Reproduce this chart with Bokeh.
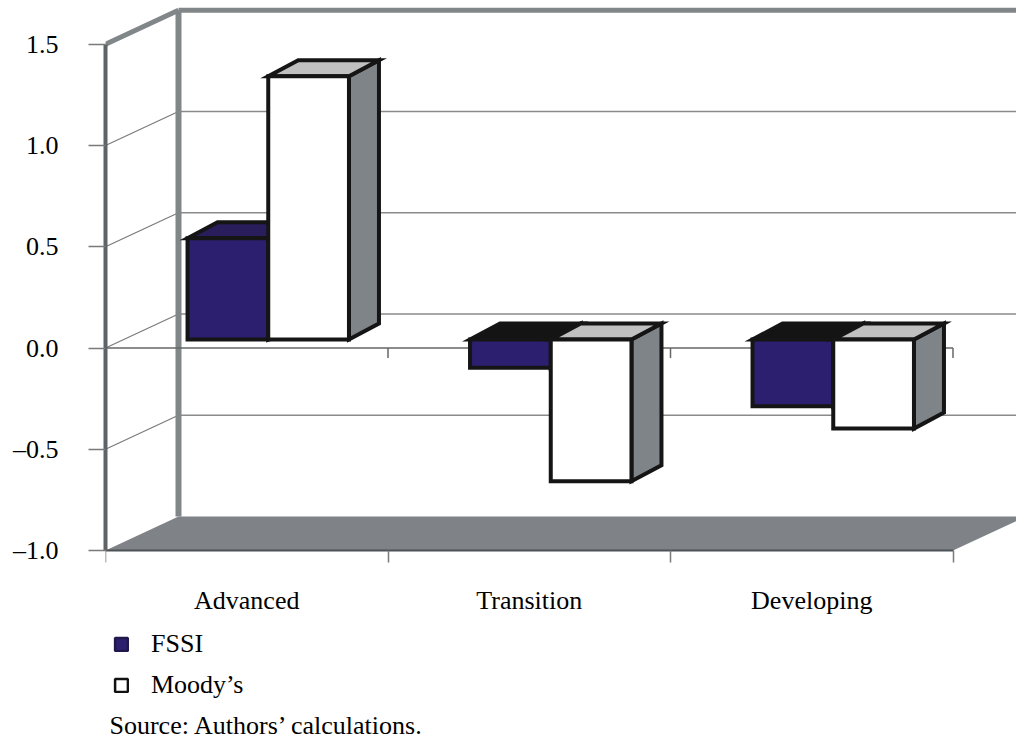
from bokeh.plotting import figure
from bokeh.models import (Range1d, FixedTicker, CustomJSTickFormatter, Legend,
                          LegendItem, Label, ColumnDataSource)
from bokeh.embed import file_html
from bokeh.resources import INLINE

# ---------------- data ----------------
categories = ["Advanced", "Transition", "Developing"]
fssi = [0.50, -0.14, -0.33]
moodys = [1.30, -0.70, -0.44]
series_names = ["FSSI", "Moody\u2019s"]
y_ticks = [-1.0, -0.5, 0.0, 0.5, 1.0, 1.5]
source_note = "Source: Authors\u2019 calculations."

# ---------------- layout constants ----------------
W, H = 1016, 743
LEFT = 105
FLOOR_PX = 550        # canvas y of the front floor edge (value -1.0)
PX_X = 282.5          # px per category
PX_Y = 202.5          # px per value unit
x_end = (W - LEFT) / PX_X
ymin, ymax = y_ticks[0], y_ticks[-1]
y_end = ymin + FLOOR_PX / PX_Y
y_start = ymin - (H - FLOOR_PX) / PX_Y
n = len(categories)

WALL_DX, WALL_DY = 73 / PX_X, 34 / PX_Y      # depth of the walls
BAR_SX, BAR_SY = 21.5 / PX_X, 8.5 / PX_Y     # bars sit inside the depth
BAR_DX, BAR_DY = 30 / PX_X, 16 / PX_Y        # depth of each bar
BAR_W = 1 / 3.5

FONT = "Liberation Serif"
FS = "26px"
WALL = "#818689"
GRID = "#8a8a8a"
OUT = "#151515"

p = figure(width=W, height=H, x_range=Range1d(0, x_end),
           y_range=Range1d(y_start, y_end), output_backend="svg",
           toolbar_location=None, min_border_left=LEFT, min_border_right=0,
           min_border_top=0, min_border_bottom=0)
p.outline_line_color = None
p.xgrid.visible = False
p.ygrid.visible = False

inner = [t for t in y_ticks if ymin < t < ymax]

# floor
p.patch([0, n, n + WALL_DX, WALL_DX],
        [ymin, ymin, ymin + WALL_DY, ymin + WALL_DY],
        fill_color="#7f8387", line_color=None)
# back-wall gridlines
p.segment(x0=[WALL_DX] * len(inner), y0=[t + WALL_DY for t in inner],
          x1=[x_end + 1] * len(inner), y1=[t + WALL_DY for t in inner],
          line_color=GRID, line_width=1.5)
# side-wall gridlines
p.segment(x0=[0] * len(inner), y0=inner,
          x1=[WALL_DX] * len(inner), y1=[t + WALL_DY for t in inner],
          line_color="#7a7a7a", line_width=1.2)
# wall edges
p.line([WALL_DX, WALL_DX], [ymin + WALL_DY, ymax + WALL_DY], line_color=WALL, line_width=6)
p.line([WALL_DX, x_end + 1], [ymax + WALL_DY, ymax + WALL_DY], line_color=WALL, line_width=5)
p.line([0, WALL_DX], [ymax, ymax + WALL_DY], line_color=WALL, line_width=5)
# front zero (category) line with ticks
p.segment(x0=[0], y0=[0], x1=[n], y1=[0], line_color="#666666", line_width=1.5)
p.segment(x0=list(range(1, n + 1)), y0=[0] * n, x1=list(range(1, n + 1)),
          y1=[-10 / PX_Y] * n, line_color="#666666", line_width=1.5)


def bar_sources(vals, k, top_pos, top_neg):
    fx, fy, tx, ty, tc, sx, sy = [], [], [], [], [], [], []
    cx, cy, hh = [], [], []
    for i, v in enumerate(vals):
        c = i + 0.5 + BAR_SX
        x0 = c - BAR_W + k * BAR_W
        x1 = x0 + BAR_W
        b, t = BAR_SY, v + BAR_SY
        lo, hi = min(b, t), max(b, t)
        fx.append([x0, x1, x1, x0]); fy.append([lo, lo, hi, hi])
        tx.append([x0, x1, x1 + BAR_DX, x0 + BAR_DX])
        ty.append([hi, hi, hi + BAR_DY, hi + BAR_DY])
        tc.append(top_pos if v >= 0 else top_neg)
        sx.append([x1, x1, x1 + BAR_DX, x1 + BAR_DX])
        sy.append([lo, hi, hi + BAR_DY, lo + BAR_DY])
        cx.append((x0 + x1) / 2); cy.append((lo + hi) / 2); hh.append(hi - lo)
    side = ColumnDataSource(dict(xs=sx, ys=sy))
    top = ColumnDataSource(dict(xs=tx, ys=ty, c=tc))
    front = ColumnDataSource(dict(xs=fx, ys=fy))
    core = ColumnDataSource(dict(x=cx, y=cy, h=hh))
    return side, top, front, core


styles = [("#2d1f70", "#2a1d5c", "#141414", "#1e1548", "#20184a"),
          ("#ffffff", "#c0c0c0", "#c0c0c0", "#7f8488", "#111111")]
leg_items = []
for k, vals in enumerate([fssi, moodys]):
    fc, tp, tn, sc, lc = styles[k]
    side, top, front, core = bar_sources(vals, k, tp, tn)
    p.patches("xs", "ys", source=side, fill_color=sc, line_color=OUT,
              line_width=4, line_join="miter")
    p.patches("xs", "ys", source=top, fill_color="c", line_color=OUT,
              line_width=4, line_join="miter")
    # bar body (hidden beneath the outlined front face; provides the legend swatch)
    body = p.rect(x="x", y="y", width=BAR_W, height="h", source=core,
                  fill_color=fc, line_color=lc, line_width=2.5)
    leg_items.append(LegendItem(label=series_names[k], renderers=[body]))
    p.patches("xs", "ys", source=front, fill_color=fc, line_color=OUT,
              line_width=4, line_join="miter")

# y axis (front plane)
ya = p.yaxis[0]
ya.ticker = FixedTicker(ticks=y_ticks)
ya.formatter = CustomJSTickFormatter(
    code="return (tick < 0 ? '\u2013' : '') + Math.abs(tick).toFixed(1);")
ya.bounds = (ymin, ymax)
ya.axis_line_color = "#5d6367"
ya.axis_line_width = 4
ya.major_tick_out = 17
ya.major_tick_in = 0
ya.major_tick_line_color = "#7a7a7a"
ya.major_tick_line_width = 1.5
ya.minor_tick_line_color = None
ya.major_label_text_font = FONT
ya.major_label_text_font_size = FS
ya.major_label_text_color = "black"
ya.major_label_standoff = 30

# x axis (floor front edge), pinned at the floor value
xa = p.xaxis[0]
xa.fixed_location = ymin
xa.ticker = FixedTicker(ticks=[i + 0.5 for i in range(n)],
                        minor_ticks=list(range(n + 1)))
xa.formatter = CustomJSTickFormatter(args=dict(cats=categories),
                                     code="return cats[Math.floor(tick)];")
xa.bounds = (0, n)
xa.axis_line_color = "#4d5256"
xa.axis_line_width = 2
xa.major_tick_line_color = None
xa.major_tick_out = 0
xa.major_tick_in = 0
xa.minor_tick_out = 12
xa.minor_tick_in = 0
xa.minor_tick_line_color = "#7a7a7a"
xa.minor_tick_line_width = 1.5
xa.major_label_text_font = FONT
xa.major_label_text_font_size = FS
xa.major_label_text_color = "black"
xa.major_label_standoff = 23

legend = Legend(items=leg_items, location=(8, 43), orientation="vertical",
                label_text_font=FONT, label_text_font_size=FS,
                label_text_color="black",
                glyph_width=16, glyph_height=16, spacing=11, padding=0,
                margin=0, border_line_color=None, background_fill_alpha=0,
                label_standoff=22)
p.add_layout(legend)

src = Label(x=4 / PX_X, y=ymin - 175 / PX_Y, text=source_note,
            text_font=FONT, text_font_size=FS, text_baseline="alphabetic",
            text_color="black")
p.add_layout(src)

open("out.html", "w").write(file_html(p, INLINE))
